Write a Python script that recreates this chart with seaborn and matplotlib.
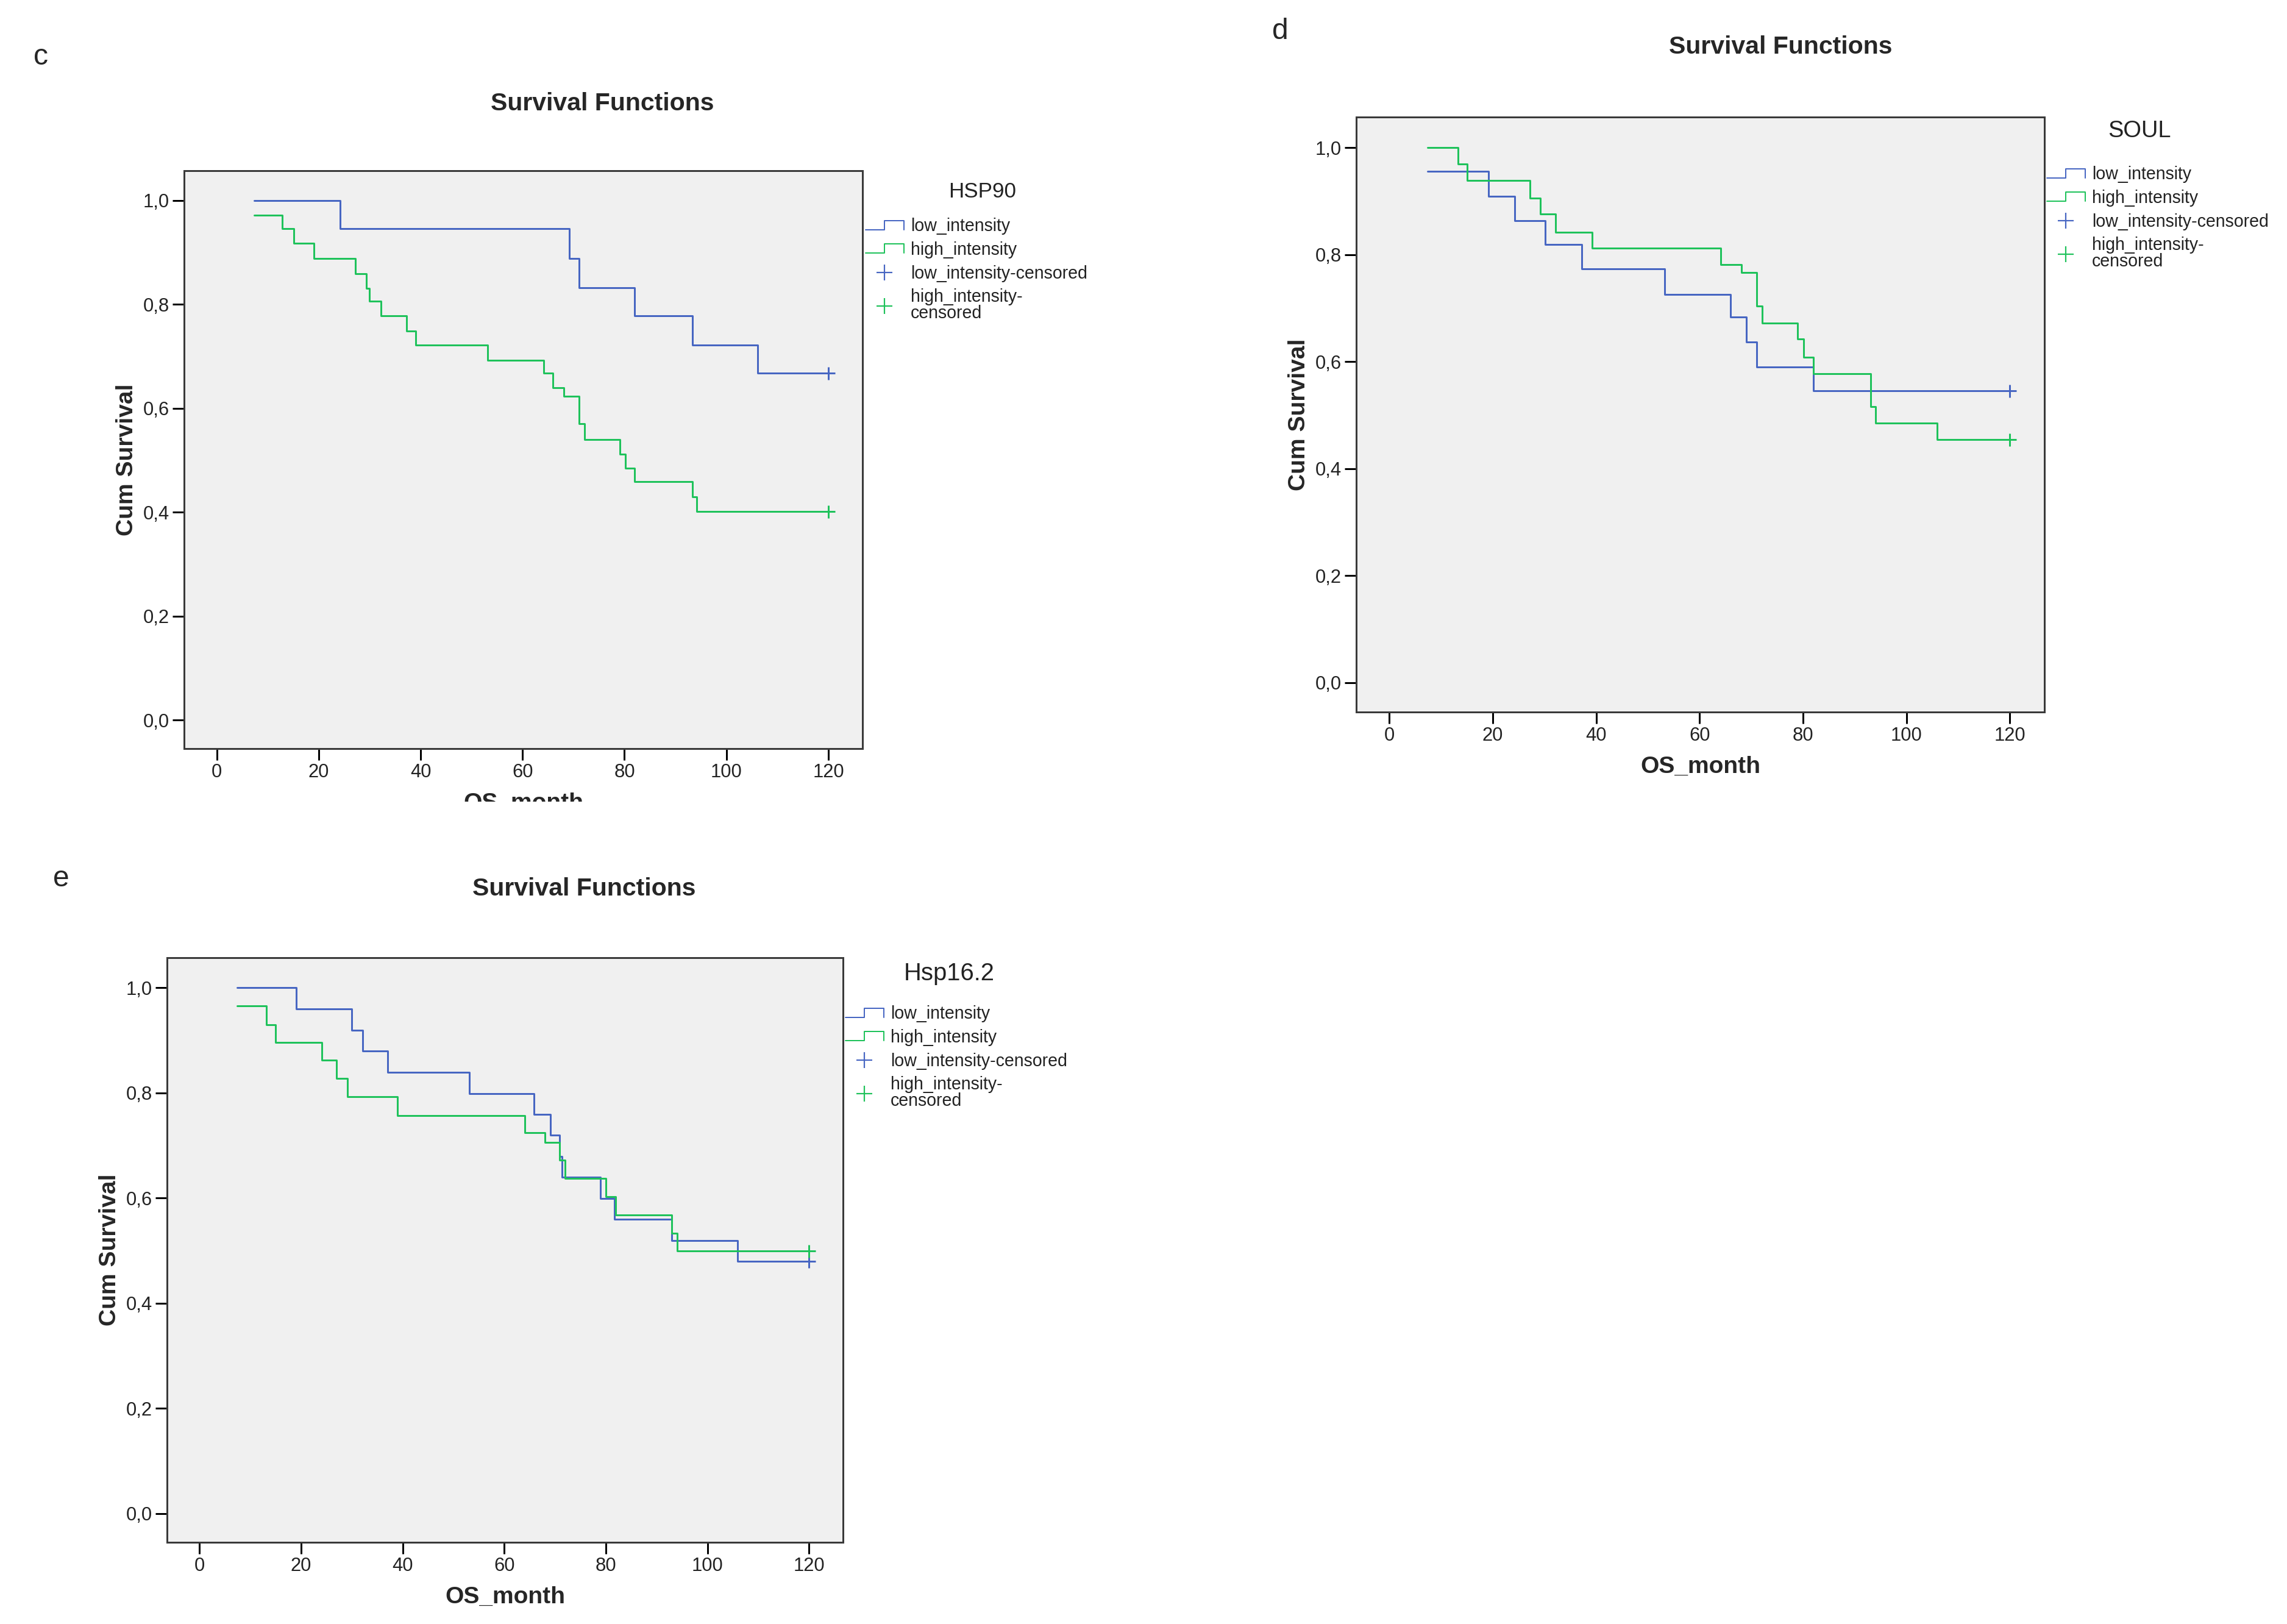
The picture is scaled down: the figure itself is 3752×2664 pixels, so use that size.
import matplotlib
matplotlib.use("Agg")
import matplotlib.pyplot as plt
import seaborn as sns
import pandas as pd
from matplotlib.lines import Line2D
from matplotlib.legend_handler import HandlerBase
from matplotlib.ticker import FuncFormatter, MultipleLocator
from matplotlib.transforms import Bbox, TransformedBbox

# ---------------- data ----------------
group_names = ["low_intensity", "high_intensity"]
legend_labels = ["low_intensity", "high_intensity",
                 "low_intensity-censored", "high_intensity-\ncensored"]
x_ticks = [0, 20, 40, 60, 80, 100, 120]
y_ticks = [0.0, 0.2, 0.4, 0.6, 0.8, 1.0]

# panel c : HSP90
c_low_times = [7.3, 24.2, 69.2, 71.1, 82.0, 93.3, 106.1]
c_low_surv = [1.0, 0.945, 0.888, 0.832, 0.778, 0.722, 0.667]
c_high_times = [7.3, 12.9, 15.1, 19.1, 27.2, 29.3, 30.0, 32.2, 37.2, 39.1, 53.2,
                64.1, 66.0, 68.1, 71.1, 72.2, 79.1, 80.2, 82.0, 93.3, 94.2]
c_high_surv = [0.971, 0.945, 0.917, 0.888, 0.859, 0.831, 0.806, 0.778, 0.749, 0.721, 0.692,
               0.667, 0.639, 0.623, 0.570, 0.540, 0.512, 0.484, 0.459, 0.430, 0.401]

# panel d : SOUL
d_low_times = [7.4, 19.2, 24.3, 30.1, 37.2, 53.2, 66.0, 69.1, 71.0, 82.0]
d_low_surv = [0.956, 0.909, 0.863, 0.819, 0.773, 0.726, 0.683, 0.637, 0.590, 0.545]
d_high_times = [7.4, 13.3, 15.1, 27.2, 29.2, 32.2, 39.2, 64.1, 68.1, 71.0, 72.1,
                79.0, 80.1, 82.0, 93.1, 94.1, 106.0]
d_high_surv = [1.0, 0.969, 0.938, 0.906, 0.876, 0.842, 0.812, 0.781, 0.766, 0.704, 0.672,
               0.642, 0.608, 0.577, 0.516, 0.485, 0.454]

# panel e : Hsp16.2
e_low_times = [7.35, 19.0, 30.0, 32.1, 37.1, 53.1, 65.9, 69.1, 70.9, 71.4, 78.9,
               81.7, 93.0, 105.9]
e_low_surv = [1.0, 0.960, 0.919, 0.880, 0.839, 0.798, 0.759, 0.719, 0.679, 0.639, 0.599,
              0.559, 0.519, 0.479]
e_high_times = [7.35, 13.2, 15.0, 24.1, 27.0, 29.1, 39.0, 64.0, 68.0, 70.9, 72.0,
                80.0, 81.9, 93.0, 94.1]
e_high_surv = [0.965, 0.929, 0.896, 0.862, 0.827, 0.793, 0.757, 0.724, 0.706, 0.672, 0.637,
               0.602, 0.568, 0.533, 0.499]

censor_time = 120  # last follow-up (censored) for both groups

# ---------------- style ----------------
sns.set_theme(style="ticks")
plt.rcParams["font.family"] = ["Liberation Sans", "DejaVu Sans"]

W, H, DPI = 3752, 2664, 100
PT = 72.0 / DPI  # points per pixel

BLUE = "#4766C2"
GREEN = "#1FC25B"
palette = {group_names[0]: BLUE, group_names[1]: GREEN}
FACE = "#F0F0F0"

fig = plt.figure(figsize=(W / DPI, H / DPI), dpi=DPI)
fig.patch.set_facecolor("white")


def px_rect(l, t, r, b):
    return [l / W, 1 - b / H, (r - l) / W, (b - t) / H]


class StepHandler(HandlerBase):
    def create_artists(self, legend, orig_handle, xdescent, ydescent,
                       width, height, fontsize, trans):
        x0, y0 = -xdescent, -ydescent
        mid = y0 + height / 2.0
        h = 15 * PT / 2.0
        xs = [x0, x0 + width * 0.5, x0 + width * 0.5, x0 + width, x0 + width]
        ys = [mid - h, mid - h, mid + h, mid + h, mid - h]
        ln = Line2D(xs, ys, color=orig_handle.get_color(), lw=orig_handle.get_linewidth())
        ln.set_transform(trans)
        return [ln]


def fmt(v, pos):
    return f"{v:.1f}".replace(".", ",")


def panel(rect, low_t, low_s, high_t, high_s, marker_name, legend_anchor, title_pos,
          marker_pos, marker_size, letter, letter_pos, clip_xlabel_at=None):
    ax = fig.add_axes(px_rect(*rect))
    ax.set_facecolor(FACE)
    frames = []
    for name, t, s in ((group_names[0], low_t, low_s), (group_names[1], high_t, high_s)):
        frames.append(pd.DataFrame({"month": list(t) + [censor_time],
                                    "surv": list(s) + [s[-1]],
                                    "group": name}))
    df = pd.concat(frames, ignore_index=True)
    sns.lineplot(data=df, x="month", y="surv", hue="group", palette=palette,
                 estimator=None, sort=False, drawstyle="steps-post",
                 lw=3 * PT, legend=False, ax=ax, zorder=3)
    cens = pd.DataFrame({"month": [censor_time, censor_time],
                         "surv": [low_s[-1], high_s[-1]],
                         "group": group_names})
    sns.scatterplot(data=cens, x="month", y="surv", hue="group", palette=palette,
                    marker="+", s=(17 * PT * 1.25) ** 2, linewidth=3 * PT,
                    legend=False, ax=ax, zorder=4)

    ax.set_xlim(-6.4, 126.7)
    ax.set_ylim(-0.055, 1.057)
    ax.xaxis.set_major_locator(MultipleLocator(20))
    ax.set_xticks(x_ticks)
    ax.set_yticks(y_ticks)
    ax.yaxis.set_major_formatter(FuncFormatter(fmt))
    ax.tick_params(axis="both", direction="out", length=19 * PT, width=3 * PT,
                   color="black", labelsize=31 * PT, pad=5 * PT, labelcolor="#222222")
    for sp in ax.spines.values():
        sp.set_visible(True)
        sp.set_color("#3a3a3a")
        sp.set_linewidth(3 * PT)

    aw = rect[2] - rect[0]
    ah = rect[3] - rect[1]
    ax.set_ylabel("Cum Survival", fontsize=39 * PT, fontweight="bold", va="center")
    ax.yaxis.set_label_coords(-94.0 / aw, 0.5)
    ax.set_xlabel("OS_month", fontsize=39 * PT, fontweight="bold", va="center")
    ax.xaxis.set_label_coords(0.5, -90.0 / ah)
    if clip_xlabel_at is not None:
        cb = TransformedBbox(Bbox([[0, 1 - clip_xlabel_at / H], [1, 1]]), fig.transFigure)
        ax.xaxis.label.set_clip_box(cb)
        ax.xaxis.label.set_clip_on(True)

    # title
    fig.text(title_pos[0] / W, 1 - title_pos[1] / H, "Survival Functions",
             ha="center", va="center", fontsize=41 * PT, fontweight="bold")
    # panel letter
    fig.text(letter_pos[0] / W, 1 - letter_pos[1] / H, letter,
             ha="center", va="center", fontsize=48 * PT)
    # legend title (marker name)
    fig.text(marker_pos[0] / W, 1 - marker_pos[1] / H, marker_name,
             ha="center", va="center", fontsize=marker_size * PT, color="#222222")

    handles = [Line2D([], [], color=BLUE, lw=2 * PT),
               Line2D([], [], color=GREEN, lw=2 * PT),
               Line2D([], [], color=BLUE, marker="+", ls="none", markersize=27 * PT,
                      markeredgewidth=2.2 * PT),
               Line2D([], [], color=GREEN, marker="+", ls="none", markersize=27 * PT,
                      markeredgewidth=2.2 * PT)]
    leg = ax.legend(handles, legend_labels, loc="upper left",
                    bbox_to_anchor=(legend_anchor[0] / W, 1 - legend_anchor[1] / H),
                    bbox_transform=fig.transFigure, frameon=False,
                    borderpad=0, borderaxespad=0, fontsize=28.5 * PT,
                    handlelength=2.2, handletextpad=0.4, labelspacing=0.38,
                    handler_map={handles[0]: StepHandler(), handles[1]: StepHandler()})
    for tx in leg.get_texts():
        tx.set_linespacing(0.95)
        tx.set_color("#222222")
    return ax


panel((302, 280, 1415, 1228), c_low_times, c_low_surv, c_high_times, c_high_surv,
      "HSP90", (1420, 357), (988, 170), (1612, 314), 35, "c", (67, 94),
      clip_xlabel_at=1315)
panel((2225, 192, 3354, 1168), d_low_times, d_low_surv, d_high_times, d_high_surv,
      "SOUL", (3358, 272), (2921, 77), (3510, 215), 38, "d", (2100, 51))
panel((274, 1571, 1383, 2530), e_low_times, e_low_surv, e_high_times, e_high_surv,
      "Hsp16.2", (1387, 1649), (958, 1458), (1557, 1597), 40, "e", (100, 1441))

fig.savefig("out.png", dpi=DPI, facecolor="white")
